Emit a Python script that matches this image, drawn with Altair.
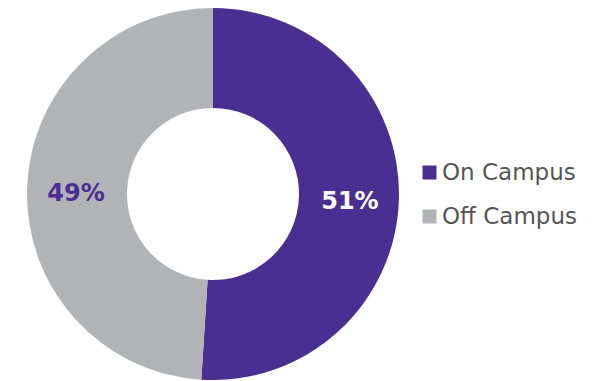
import altair as alt
import pandas as pd

categories = ["On Campus", "Off Campus"]
shares = [51, 49]
labels = ["51%", "49%"]
colors = ["#4B2E91", "#B1B3B6"]
label_colors = ["#FFFFFF", "#4B2E91"]

df = pd.DataFrame({
    "category": categories,
    "share": shares,
    "label": labels,
    "order": [0, 1],
    "lcolor": label_colors,
})

theta = alt.Theta("share:Q", stack=True)
order = alt.Order("order:Q")

arc = alt.Chart(df).mark_arc(outerRadius=186, innerRadius=86).encode(
    theta=theta,
    order=order,
    x=alt.value(205),
    y=alt.value(186),
    color=alt.Color(
        "category:N",
        scale=alt.Scale(domain=categories, range=colors),
        sort=categories,
        legend=alt.Legend(
            title=None,
            orient="none",
            legendX=410,
            legendY=153,
            labelFont="DejaVu Sans",
            labelFontSize=23,
            labelColor="#555555",
            symbolType="square",
            symbolSize=196,
            symbolStrokeWidth=0,
            rowPadding=20,
            labelOffset=1,
        ),
    ),
)

text = alt.Chart(df).mark_text(
    radius=137, font="DejaVu Sans", fontWeight="bold", fontSize=24, dy=4
).encode(
    theta=theta,
    order=order,
    x=alt.value(205),
    y=alt.value(186),
    text="label:N",
    color=alt.Color("lcolor:N", scale=None),
)

chart = alt.layer(arc, text).properties(
    width=587, height=372, autosize=alt.AutoSizeParams(type="none"), padding=0
).configure_view(stroke=None)

chart.save("out.html", embed_options={"renderer": "svg", "actions": False})
